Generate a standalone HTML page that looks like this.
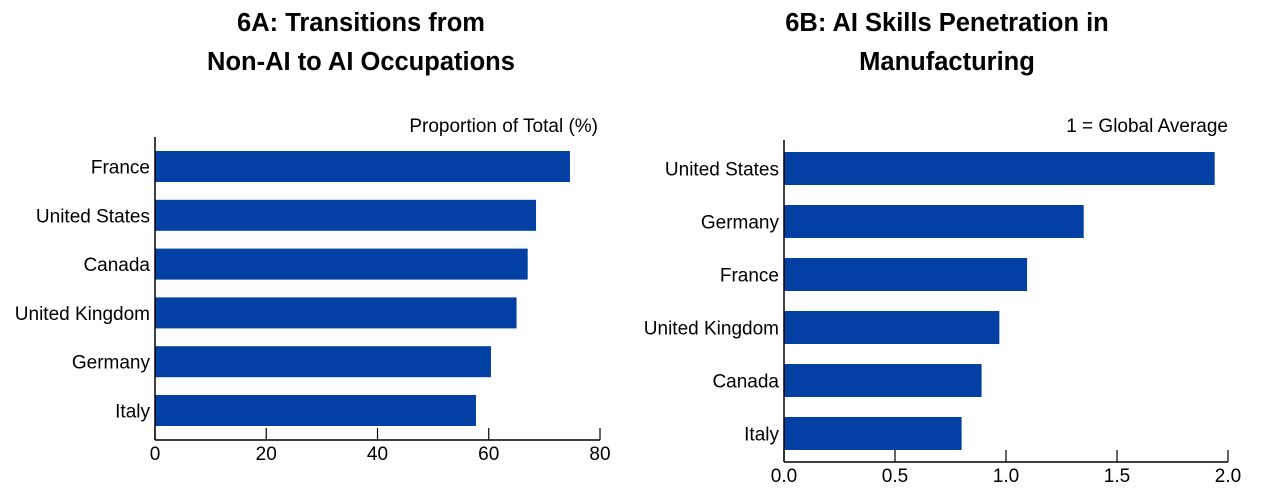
<!DOCTYPE html>
<html><head><meta charset="utf-8"><style>
body{margin:0;background:#fff;}
svg text{font-family:"Liberation Sans",Arial,sans-serif;}
</style></head><body>
<svg id="c" width="1264" height="497" xmlns="http://www.w3.org/2000/svg">
<g font-weight="bold" font-size="25.5" text-anchor="middle" fill="#000">
<text x="361" y="31">6A: Transitions from</text>
<text x="361" y="70">Non-AI to AI Occupations</text>
<text x="947" y="31">6B: AI Skills Penetration in</text>
<text x="947" y="70">Manufacturing</text>
</g>
<text x="598" y="132" font-size="19" text-anchor="end">Proportion of Total (%)</text>
<text x="1228" y="132" font-size="19" text-anchor="end">1 = Global Average</text>
</svg>
<script>
const catsA=["France","United States","Canada","United Kingdom","Germany","Italy"];
const valsA=[74.6,68.5,67,65,60.4,57.7];
const ticksA=[0,20,40,60,80];
const catsB=["United States","Germany","France","United Kingdom","Canada","Italy"];
const valsB=[1.94,1.35,1.095,0.97,0.89,0.80];
const ticksB=[0,0.5,1.0,1.5,2.0];
const tickLabelsB=["0.0","0.5","1.0","1.5","2.0"];
const NS="http://www.w3.org/2000/svg";
const svg=document.getElementById('c');
function mk(t,a){const e=document.createElementNS(NS,t);for(const k in a)e.setAttribute(k,a[k]);svg.appendChild(e);return e;}
function chart(p,cats,vals,ticks,labels,id){
  const x=v=>p.x0+(v-p.min)/(p.max-p.min)*(p.x1-p.x0);
  const y=i=>p.yTop+i*p.step;
  cats.forEach((c,i)=>{
    const r=mk('rect',{x:x(0),y:y(i),width:x(vals[i])-x(0),height:p.bh,fill:'#0340a3'});
    
    
    const t=mk('text',{x:p.x0-5,y:y(i)+p.bh/2+7,'font-size':19,'text-anchor':'end'});
    t.textContent=c;
    
    
  });
  const ax=mk('line',{x1:p.x0,y1:p.axTop,x2:p.x0,y2:p.axY,stroke:'#000','stroke-width':1.5});
  
  
  const bx=mk('line',{x1:p.x0,y1:p.axY,x2:p.x1,y2:p.axY,stroke:'#000','stroke-width':1.5});
  
  
  ticks.forEach((v,i)=>{
    const l=mk('line',{x1:x(v),y1:p.axY-12,x2:x(v),y2:p.axY,stroke:'#000','stroke-width':1.2});
    
    
    const t=mk('text',{x:x(v),y:p.axY+20,'font-size':19,'text-anchor':'middle'});
    t.textContent=labels[i];
    
    
  });
}
chart({x0:155,x1:600,min:0,max:80,yTop:151,step:48.8,bh:31,axTop:137,axY:440},catsA,valsA,ticksA,ticksA.map(String),'6a');
chart({x0:784,x1:1228,min:0,max:2,yTop:152,step:53,bh:33,axTop:140,axY:462},catsB,valsB,ticksB,tickLabelsB,'6b');
</script>
</body></html>
